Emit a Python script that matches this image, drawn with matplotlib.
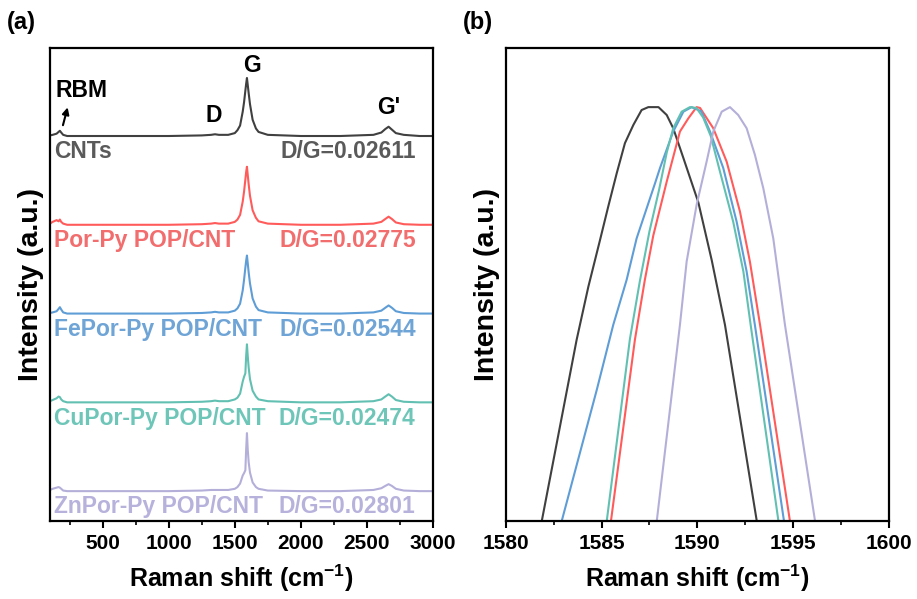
import matplotlib.pyplot as plt
from matplotlib.ticker import MultipleLocator

plt.rcParams['font.family'] = ['Liberation Sans', 'DejaVu Sans']
plt.rcParams['font.weight'] = 'bold'
plt.rcParams['mathtext.fontset'] = 'custom'
plt.rcParams['mathtext.rm'] = 'Liberation Sans:bold'
plt.rcParams['mathtext.bf'] = 'Liberation Sans:bold'
plt.rcParams['mathtext.default'] = 'bf'

# ---- panel (a): full Raman spectra, normalised to G band ----
shift = [100, 120, 150, 165, 175, 185, 200, 230, 400, 700, 1000, 1250, 1320, 1350,
         1380, 1450, 1500, 1520, 1540, 1560, 1570, 1580, 1586, 1592, 1598, 1605, 1615,
         1635, 1660, 1680, 1750, 2000, 2300, 2550, 2610, 2640, 2665, 2690, 2720, 2780,
         2900, 3000]
cnts = [0.01, 0.02, 0.04, 0.07, 0.09, 0.06, 0.02, 0.0, 0.0, 0.0, 0.0, 0.01, 0.02, 0.03,
        0.02, 0.02, 0.05, 0.10, 0.18, 0.42, 0.58, 0.78, 0.90, 1.0, 0.88, 0.74, 0.55,
        0.28, 0.13, 0.07, 0.02, 0.0, 0.0, 0.02, 0.06, 0.12, 0.16, 0.11, 0.05, 0.02,
        0.0, 0.0]
por = [0.02, 0.05, 0.08, 0.06, 0.09, 0.05, 0.02, 0.0, 0.0, 0.0, 0.0, 0.01, 0.02, 0.03,
       0.02, 0.02, 0.05, 0.09, 0.17, 0.40, 0.57, 0.78, 0.91, 1.0, 0.86, 0.70, 0.50,
       0.25, 0.12, 0.06, 0.02, 0.0, 0.0, 0.02, 0.05, 0.10, 0.14, 0.10, 0.04, 0.01,
       0.0, 0.0]
fepor = [0.01, 0.02, 0.04, 0.08, 0.11, 0.07, 0.02, 0.0, 0.0, 0.0, 0.0, 0.01, 0.02, 0.03,
         0.02, 0.02, 0.05, 0.09, 0.17, 0.40, 0.58, 0.79, 0.91, 1.0, 0.87, 0.71, 0.52,
         0.26, 0.12, 0.06, 0.02, 0.0, 0.0, 0.02, 0.05, 0.10, 0.14, 0.10, 0.04, 0.01,
         0.0, 0.0]
cupor = [0.02, 0.04, 0.07, 0.10, 0.09, 0.05, 0.02, 0.0, 0.0, 0.0, 0.0, 0.01, 0.02, 0.03,
         0.02, 0.02, 0.05, 0.08, 0.15, 0.36, 0.44, 0.50, 0.80, 1.0, 0.80, 0.60, 0.40,
         0.20, 0.10, 0.05, 0.02, 0.0, 0.0, 0.02, 0.05, 0.10, 0.14, 0.10, 0.04, 0.01,
         0.0, 0.0]
znpor = [0.02, 0.04, 0.06, 0.07, 0.06, 0.04, 0.01, 0.0, 0.0, 0.0, 0.0, 0.01, 0.02, 0.02,
         0.02, 0.02, 0.04, 0.07, 0.13, 0.27, 0.31, 0.36, 0.72, 1.0, 0.72, 0.50, 0.32,
         0.15, 0.07, 0.04, 0.01, 0.0, 0.0, 0.02, 0.05, 0.09, 0.12, 0.09, 0.04, 0.01,
         0.0, 0.0]

names = ['CNTs', 'Por-Py POP/CNT', 'FePor-Py POP/CNT', 'CuPor-Py POP/CNT', 'ZnPor-Py POP/CNT']
ratios = ['D/G=0.02611', 'D/G=0.02775', 'D/G=0.02544', 'D/G=0.02474', 'D/G=0.02801']
line_colors = ['#404040', '#ff5b5b', '#5f9dd6', '#62c0b2', '#b4afd9']
text_colors = ['#5a5a5a', '#f26d6d', '#6fa4d6', '#6ec6b9', '#b7b2dc']
spectra = [cnts, por, fepor, cupor, znpor]

# ---- panel (b): zoom on G band ----
b_black_x = [1581.88, 1583.70, 1584.31, 1584.92, 1585.35, 1585.79, 1586.22, 1586.66, 1587.09,
             1587.44, 1587.97, 1588.40, 1588.74, 1589.27, 1590.05, 1590.75, 1591.44, 1593.10]
b_black_y = [0.0, 0.438, 0.566, 0.679, 0.760, 0.840, 0.913, 0.957, 0.993,
             1.0, 1.0, 0.981, 0.949, 0.877, 0.770, 0.630, 0.474, 0.0]
b_red_x = [1585.49, 1586.74, 1587.26, 1587.70, 1588.40, 1589.09, 1589.53, 1589.96, 1590.14,
           1590.83, 1591.53, 1592.22, 1592.74, 1593.27, 1594.83]
b_red_y = [0.0, 0.438, 0.583, 0.690, 0.820, 0.941, 0.973, 1.0, 0.998,
           0.949, 0.868, 0.748, 0.627, 0.474, 0.0]
b_blue_x = [1582.92, 1584.75, 1585.61, 1586.31, 1586.83, 1587.79, 1588.05, 1588.74, 1589.27,
            1589.70, 1590.20, 1590.66, 1591.35, 1592.05, 1592.57, 1593.00, 1594.52]
b_blue_y = [0.0, 0.317, 0.474, 0.583, 0.683, 0.816, 0.853, 0.941, 0.989,
            1.0, 0.990, 0.941, 0.853, 0.723, 0.603, 0.474, 0.0]
b_teal_x = [1585.27, 1586.48, 1587.00, 1587.50, 1588.00, 1588.40, 1588.74, 1589.18, 1589.61,
            1589.95, 1590.30, 1590.70, 1591.18, 1591.87, 1592.40, 1592.78, 1594.23]
b_teal_y = [0.0, 0.44, 0.58, 0.70, 0.80, 0.89, 0.949, 0.989, 1.0,
            0.998, 0.975, 0.93, 0.844, 0.723, 0.603, 0.474, 0.0]
b_lav_x = [1587.88, 1589.09, 1589.44, 1589.96, 1590.48, 1590.83, 1591.27, 1591.70, 1592.13,
           1592.57, 1593.00, 1593.44, 1593.96, 1594.57, 1596.14]
b_lav_y = [0.0, 0.474, 0.627, 0.764, 0.868, 0.941, 0.989, 1.0, 0.981,
           0.949, 0.885, 0.804, 0.683, 0.474, 0.0]

fig = plt.figure(figsize=(9.17, 5.99), dpi=100)
ax1 = fig.add_axes([0.0545, 0.130, 0.4175, 0.790])
ax2 = fig.add_axes([0.5515, 0.130, 0.418, 0.790])

step = 1.53
for i, (y, lc, tc, nm, rt) in enumerate(zip(spectra, line_colors, text_colors, names, ratios)):
    off = (4 - i) * step
    ax1.plot(shift, [v + off for v in y], color=lc, lw=1.5)
    ax1.text(130, off - 0.27, nm, color=tc, fontsize=16.5, fontweight='bold',
             ha='left', va='center')
    ax1.text(2870, off - 0.27, rt, color=tc, fontsize=16.5, fontweight='bold',
             ha='right', va='center')

ax1.text(1633, 7.33, 'G', fontsize=16.5, fontweight='bold', ha='center', va='center')
ax1.text(145, 6.91, 'RBM', fontsize=16.5, fontweight='bold', ha='left', va='center')
ax1.text(1344, 6.47, 'D', fontsize=16.5, fontweight='bold', ha='center', va='center')
ax1.text(2663, 6.61, "G'", fontsize=16.5, fontweight='bold', ha='center', va='center')
ax1.annotate('', xy=(239, 6.66), xytext=(193, 6.26),
             arrowprops=dict(arrowstyle='-|>', color='black', lw=1.5, mutation_scale=10))

ax1.set_xlim(100, 3000)
ax1.set_ylim(-0.517, 7.638)
ax1.xaxis.set_major_locator(MultipleLocator(500))
ax1.xaxis.set_minor_locator(MultipleLocator(250))
ax1.set_yticks([])

b_x = [b_black_x, b_red_x, b_blue_x, b_teal_x, b_lav_x]
b_y = [b_black_y, b_red_y, b_blue_y, b_teal_y, b_lav_y]
for xs, ys, lc in zip(b_x, b_y, line_colors):
    ax2.plot(xs, ys, color=lc, lw=1.5)
ax2.set_xlim(1580, 1600)
ax2.set_ylim(0, 1.143)
ax2.xaxis.set_major_locator(MultipleLocator(5))
ax2.xaxis.set_minor_locator(MultipleLocator(2.5))
ax2.set_yticks([])

for ax in (ax1, ax2):
    for s in ax.spines.values():
        s.set_linewidth(1.6)
    ax.tick_params(axis='x', which='major', direction='out', length=5, width=1.5,
                   labelsize=15, pad=4)
    ax.tick_params(axis='x', which='minor', direction='out', length=3, width=1.2)
    for lab in ax.get_xticklabels():
        lab.set_fontweight('bold')
    ax.set_xlabel('Raman shift (cm$^{-1}$)', fontsize=18, fontweight='bold', labelpad=7)
    ax.set_ylabel('Intensity (a.u.)', fontsize=20.5, fontweight='bold', labelpad=4)

fig.text(0.008, 0.963, '(a)', fontsize=17, fontweight='bold', ha='left', va='center')
fig.text(0.505, 0.963, '(b)', fontsize=17, fontweight='bold', ha='left', va='center')

fig.savefig('out.png', dpi=100)
